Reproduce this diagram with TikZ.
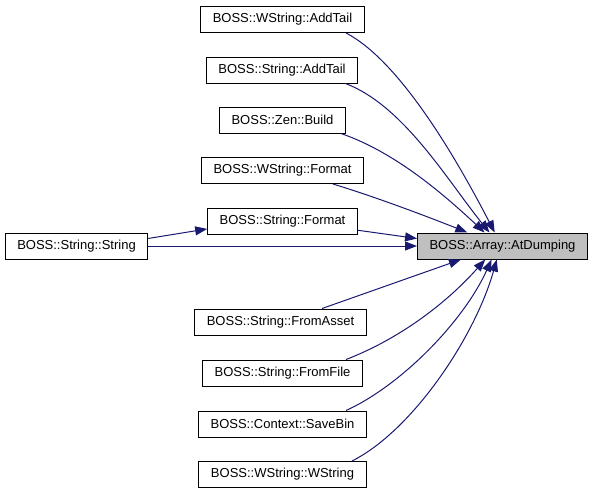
\documentclass[tikz,border=0pt]{standalone}
\usepackage{fontspec}
\setmainfont{Liberation Sans}
\usetikzlibrary{arrows.meta}
\definecolor{edgeblue}{RGB}{25,25,112}
\definecolor{hilite}{RGB}{191,191,191}
\begin{document}
\begin{tikzpicture}[x=1pt,y=-1pt,
  fn/.style={draw=black,line width=1pt,inner xsep=12pt,minimum height=26pt,font=\fontsize{13}{15}\selectfont},
  call/.style={draw=edgeblue,line width=1pt,-{Triangle[length=12pt,width=9pt,fill=edgeblue]}}]
\useasboundingbox (0,0) rectangle (593,493);
\node[fn,fill=hilite] (T) at (502.5,246) {BOSS::Array::AtDumping};
\node[fn] (wat) at (282.5,19.5) {BOSS::WString::AddTail};
\node[fn] (sat) at (282,70) {BOSS::String::AddTail};
\node[fn] (zb) at (282.5,120) {BOSS::Zen::Build};
\node[fn] (wfm) at (282.5,170.5) {BOSS::WString::Format};
\node[fn] (sfm) at (282.5,221) {BOSS::String::Format};
\node[fn] (ss) at (76.5,246) {BOSS::String::String};
\node[fn] (fa) at (280.5,322) {BOSS::String::FromAsset};
\node[fn] (ff) at (282.5,373) {BOSS::String::FromFile};
\node[fn] (sb) at (282.5,424) {BOSS::Context::SaveBin};
\node[fn] (ww) at (282.5,474.5) {BOSS::WString::WString};
\draw[call] (wat.-12) .. controls +(58,30) and +(-30,-58) .. (T.120);
\draw[call] (sat.-12) .. controls +(58,22) and +(-42,-52) .. (T.134);
\draw[call] (zb.-13) .. controls +(52,18) and +(-45,-42) .. (T.143);
\draw[call] (wfm.-15) .. controls +(40,12) and +(-40,-16) .. (T.159);
\draw[call] (sfm.-7) -- (T.175);
\draw[call] (ss) -- (T);
\draw[call] (ss.6) -- (sfm.186);
\draw[call] (fa.18) -- (T.198);
\draw[call] (ff.12) .. controls +(52,-20) and +(-40,45) .. (T.218);
\draw[call] (sb.12) .. controls +(55,-25) and +(-28,62) .. (T.231);
\draw[call] (ww.11) .. controls +(60,-30) and +(-22,78) .. (T.247);
\end{tikzpicture}
\end{document}
